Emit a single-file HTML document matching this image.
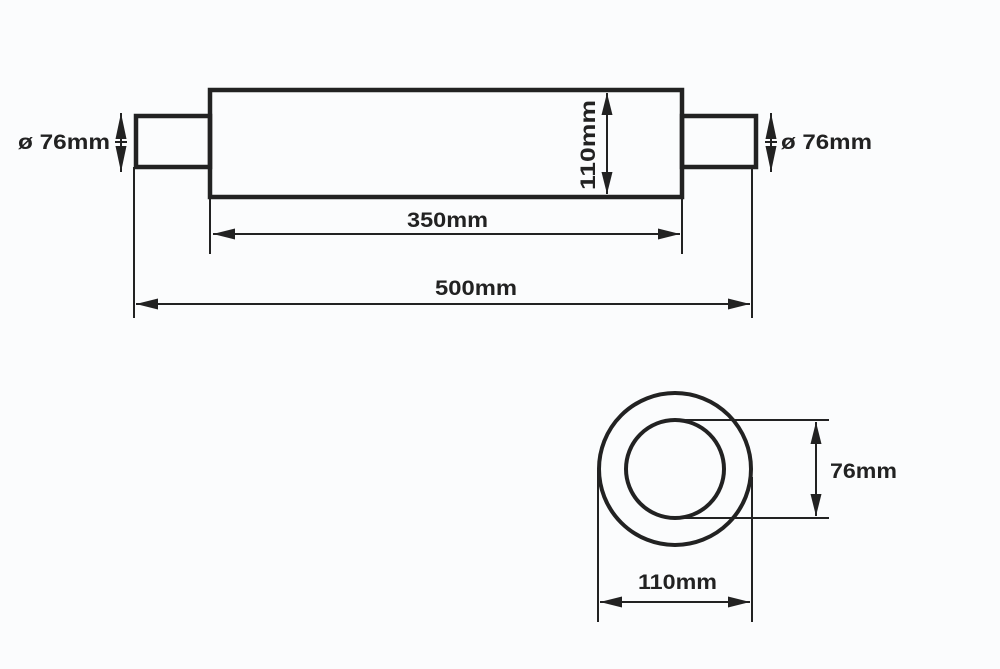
<!DOCTYPE html>
<html><head><meta charset="utf-8"><style>
html,body{margin:0;padding:0;background:#fbfcfd;}
svg{display:block}
text{font-family:"Liberation Sans",Arial,sans-serif;font-weight:bold;fill:#222;font-size:21px}
</style></head><body>
<svg width="1000" height="669" viewBox="0 0 1000 669" xmlns="http://www.w3.org/2000/svg">
<defs>
<marker id="a" viewBox="0 0 20 10" refX="20" refY="5" markerWidth="22" markerHeight="11" markerUnits="userSpaceOnUse" orient="auto-start-reverse"><path d="M0,0L20,5L0,10z" fill="#222"/></marker>
<marker id="s" viewBox="0 0 26 11" refX="26" refY="5.5" markerWidth="26" markerHeight="11" markerUnits="userSpaceOnUse" orient="auto-start-reverse"><path d="M0,0L26,5.5L0,11z" fill="#222"/></marker>
</defs>
<g fill="none" stroke="#222">
<rect x="210" y="90" width="472" height="107" stroke-width="4.5"/>
<rect x="136" y="116" width="74" height="51" stroke-width="4.5"/>
<rect x="682" y="116" width="74" height="51" stroke-width="4.5"/>
<g stroke-width="2">
<line x1="134" y1="167" x2="134" y2="318"/>
<line x1="210" y1="197" x2="210" y2="254"/>
<line x1="682" y1="197" x2="682" y2="254"/>
<line x1="752" y1="167" x2="752" y2="318"/>
<line x1="213" y1="234" x2="680" y2="234" marker-start="url(#a)" marker-end="url(#a)"/>
<line x1="136" y1="304" x2="750" y2="304" marker-start="url(#a)" marker-end="url(#a)"/>
<line x1="607" y1="93" x2="607" y2="194" marker-start="url(#a)" marker-end="url(#a)"/>
<line x1="121" y1="113" x2="121" y2="172" marker-start="url(#s)" marker-end="url(#s)"/>
<line x1="771" y1="113" x2="771" y2="172" marker-start="url(#s)" marker-end="url(#s)"/>
<line x1="115" y1="142" x2="127" y2="142"/>
<line x1="765" y1="142" x2="777" y2="142"/>
</g>
<circle cx="675" cy="469" r="76" stroke-width="4"/>
<circle cx="675" cy="469" r="49" stroke-width="4"/>
<g stroke-width="2">
<line x1="675" y1="420" x2="829" y2="420"/>
<line x1="675" y1="518" x2="829" y2="518"/>
<line x1="816" y1="422" x2="816" y2="516" marker-start="url(#a)" marker-end="url(#a)"/>
<line x1="598" y1="470" x2="598" y2="622"/>
<line x1="752" y1="477" x2="752" y2="622"/>
<line x1="600" y1="602" x2="750" y2="602" marker-start="url(#a)" marker-end="url(#a)"/>
</g>
</g>
<text x="18" y="149" textLength="92" lengthAdjust="spacingAndGlyphs">ø 76mm</text>
<text x="781" y="149" textLength="91" lengthAdjust="spacingAndGlyphs">ø 76mm</text>
<text x="407" y="227" textLength="81" lengthAdjust="spacingAndGlyphs">350mm</text>
<text x="435" y="295" textLength="82" lengthAdjust="spacingAndGlyphs">500mm</text>
<text transform="translate(595,190) rotate(-90)" textLength="90" lengthAdjust="spacingAndGlyphs">110mm</text>
<text x="830" y="478" textLength="67" lengthAdjust="spacingAndGlyphs">76mm</text>
<text x="638" y="589" textLength="79" lengthAdjust="spacingAndGlyphs">110mm</text>
</svg>
</body></html>
